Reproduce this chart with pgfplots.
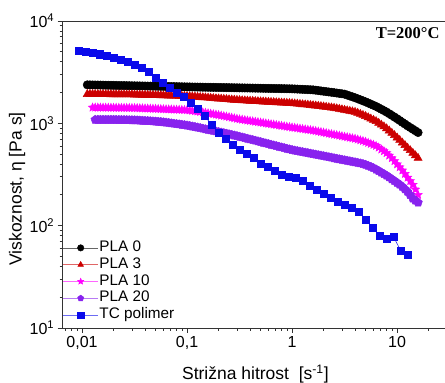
\documentclass[border=0pt]{standalone}
\usepackage{pgfplots}
\pgfplotsset{compat=1.18}
\usepackage{pgfplotstable}
\usepackage{fontspec}
\setmainfont{Liberation Sans}
\newfontfamily\titleserif{Liberation Serif}
\usetikzlibrary{plotmarks}

\definecolor{cred}{RGB}{204,0,0}
\definecolor{cmag}{RGB}{255,0,255}
\definecolor{cvio}{RGB}{136,34,238}
\definecolor{cblue}{RGB}{10,10,235}

% filled five-pointed star
\pgfdeclareplotmark{fstar}{%
  \pgfpathmoveto{\pgfpointpolar{90}{\pgfplotmarksize}}%
  \pgfpathlineto{\pgfpointpolar{126}{0.45\pgfplotmarksize}}%
  \pgfpathlineto{\pgfpointpolar{162}{\pgfplotmarksize}}%
  \pgfpathlineto{\pgfpointpolar{198}{0.45\pgfplotmarksize}}%
  \pgfpathlineto{\pgfpointpolar{234}{\pgfplotmarksize}}%
  \pgfpathlineto{\pgfpointpolar{270}{0.45\pgfplotmarksize}}%
  \pgfpathlineto{\pgfpointpolar{306}{\pgfplotmarksize}}%
  \pgfpathlineto{\pgfpointpolar{342}{0.45\pgfplotmarksize}}%
  \pgfpathlineto{\pgfpointpolar{18}{\pgfplotmarksize}}%
  \pgfpathlineto{\pgfpointpolar{54}{0.45\pgfplotmarksize}}%
  \pgfpathclose
  \pgfusepathqfillstroke
}

% shear rate [1/s] and viscosity [Pa s] of the PLA blends
\pgfplotstableread{
x pla0 pla3 pla10 pla20
0.01122 2377 1928 nan nan
0.01189 2374 1927 nan nan
0.01259 2371 1925 1429 nan
0.01334 2369 1924 1428 1084
0.01413 2366 1923 1427 1084
0.01496 2363 1922 1426 1084
0.01585 2360 1920 1425 1084
0.01679 2357 1919 1424 1084
0.01778 2354 1918 1423 1084
0.01884 2352 1917 1422 1084
0.01995 2349 1915 1421 1084
0.02113 2346 1914 1420 1083
0.02239 2343 1913 1419 1081
0.02371 2340 1912 1418 1080
0.02512 2337 1910 1417 1079
0.02661 2335 1909 1416 1078
0.02818 2332 1908 1415 1076
0.02985 2329 1907 1414 1075
0.03162 2326 1905 1413 1074
0.03350 2323 1902 1410 1071
0.03548 2320 1899 1406 1067
0.03758 2318 1896 1403 1063
0.03981 2315 1892 1400 1059
0.04217 2312 1889 1397 1056
0.04467 2309 1886 1393 1052
0.04732 2307 1883 1390 1047
0.05012 2304 1879 1387 1042
0.05309 2301 1876 1384 1038
0.05623 2298 1873 1380 1033
0.05957 2296 1870 1377 1026
0.06310 2293 1866 1374 1019
0.06683 2290 1863 1371 1011
0.07079 2287 1860 1368 1002
0.07499 2285 1857 1365 994
0.07943 2282 1854 1361 986
0.08414 2279 1851 1358 979
0.08913 2276 1847 1355 971
0.09441 2273 1844 1352 963
0.1 2270 1841 1349 955
0.1059 2268 1833 1338 944
0.1122 2265 1824 1327 933
0.1189 2263 1816 1317 923
0.1259 2260 1807 1306 912
0.1334 2258 1799 1294 901
0.1413 2255 1791 1282 889
0.1496 2253 1783 1269 878
0.1585 2250 1774 1256 867
0.1679 2248 1766 1243 856
0.1778 2246 1758 1230 845
0.1884 2244 1750 1218 835
0.1995 2241 1742 1205 824
0.2113 2239 1734 1192 814
0.2239 2236 1726 1178 804
0.2371 2234 1718 1165 794
0.2512 2231 1710 1151 783
0.2661 2229 1702 1137 773
0.2818 2226 1694 1122 762
0.2985 2224 1687 1109 752
0.3162 2221 1679 1096 741
0.3350 2219 1673 1086 730
0.3548 2217 1667 1076 719
0.3758 2215 1662 1067 709
0.3981 2212 1656 1057 698
0.4217 2210 1650 1048 688
0.4467 2207 1644 1038 678
0.4732 2205 1639 1029 668
0.5012 2202 1633 1019 658
0.5309 2200 1628 1010 648
0.5623 2197 1622 1000 638
0.5957 2195 1617 991 629
0.6310 2193 1611 982 619
0.6683 2191 1606 973 610
0.7079 2188 1600 964 601
0.7499 2186 1595 955 592
0.7943 2183 1589 946 583
0.8414 2181 1584 938 575
0.8913 2178 1578 929 566
0.9441 2176 1573 921 558
1 2173 1567 912 550
1.059 2167 1558 905 543
1.122 2160 1549 897 537
1.189 2154 1540 889 531
1.259 2148 1531 881 525
1.334 2142 1523 874 519
1.413 2136 1514 866 513
1.496 2130 1505 859 507
1.585 2123 1496 851 501
1.679 2107 1486 842 496
1.778 2090 1476 832 490
1.884 2074 1466 823 485
1.995 2058 1455 813 479
2.113 2042 1444 804 474
2.239 2026 1432 794 468
2.371 2011 1423 785 463
2.512 1995 1413 776 457
2.661 1978 1397 768 452
2.818 1961 1380 759 447
2.985 1945 1365 750 442
3.162 1928 1349 741 437
3.350 1890 1334 733 432
3.548 1851 1318 724 427
3.758 1815 1303 716 422
3.981 1778 1288 708 417
4.217 1738 1259 696 412
4.467 1698 1230 684 407
4.732 1660 1203 673 401
5.012 1622 1175 661 394
5.309 1581 1142 646 385
5.623 1540 1109 631 376
5.957 1501 1078 617 366
6.310 1462 1047 603 355
6.683 1418 1007 580 343
7.079 1373 966 556 331
7.499 1331 929 535 320
7.943 1288 891 513 309
8.414 1242 848 485 297
8.913 1196 804 457 285
9.441 1153 764 428 274
10 1109 724 398 263
10.59 1066 685 373 252
11.22 1023 646 347 240
11.89 984 611 321 227
12.59 944 575 295 214
13.34 910 544 273 199
14.13 876 513 251 184
14.96 845 485 226 176
15.85 813 457 200 168
}\plablends

% TC polymer
\pgfplotstableread{
x eta
0.009261 5129
0.010798 5012
0.012589 4898
0.014678 4732
0.017113 4571
0.019953 4416
0.023263 4217
0.027123 4027
0.031623 3758
0.036869 3467
0.042987 3162
0.050119 2818
0.058434 2512
0.068129 2239
0.079433 1995
0.092611 1820
0.10798 1585
0.12589 1380
0.14678 1175
0.17113 977
0.19953 813
0.23263 708
0.27123 617
0.31623 550
0.36869 501
0.42987 457
0.50119 407
0.58434 376
0.68129 347
0.79433 316
0.92611 302
1.0798 292
1.2589 275
1.4678 245
1.7113 224
1.9953 207
2.3263 188
2.7123 172
3.1623 160
3.6869 150
4.2987 138
5.0119 115
5.8434 95.5
6.8129 79.4
7.9433 74.1
9.2611 77.6
10.798 57.5
12.589 52.5
}\tcpoly

\begin{document}
\begin{tikzpicture}
\path[use as bounding box] (-62.7pt,-55pt) rectangle (382.3pt,328pt);
\begin{axis}[
  scale only axis,
  width=382.3pt, height=307pt,
  xmode=log, ymode=log,
  xmin=0.00654, xmax=28.6,
  ymin=10, ymax=10000,
  axis y line*=left,
  xtick pos=bottom, ytick pos=left,
  axis line style={black!80, line width=0.9pt},
  tick align=outside,
  major tick length=5pt, minor tick length=3pt,
  every tick/.style={black!80, line width=0.8pt},
  xtick={0.01,0.1,1,10},
  xticklabels={{0,01},{0,1},1,10},
  minor xtick={0.007,0.008,0.009,0.02,0.03,0.04,0.05,0.06,0.07,0.08,0.09,0.2,0.3,0.4,0.5,0.6,0.7,0.8,0.9,2,3,4,5,6,7,8,9,20},
  ytick={10,100,1000,10000},
  yticklabels={10\textsuperscript{1},10\textsuperscript{2},10\textsuperscript{3},10\textsuperscript{4}},
  minor ytick={20,30,40,50,60,70,80,90,200,300,400,500,600,700,800,900,2000,3000,4000,5000,6000,7000,8000,9000},
  tick label style={font=\fontsize{16}{19}\selectfont},
  xlabel={Strižna hitrost\ \ [s\textsuperscript{-1}]},
  ylabel={Viskoznost, η [Pa s]},
  label style={font=\fontsize{17.5}{21}\selectfont},
  xlabel style={at={(axis description cs:0.504,-0.15)}, anchor=center},
  ylabel style={at={(axis description cs:-0.1195,0.4528)}, anchor=center},
  legend style={
    at={(rel axis cs:0,0.289)}, anchor=north west,
    draw=none, fill=none, inner sep=0pt,
    font=\fontsize{15.3}{18}\selectfont,
    nodes={inner sep=1pt, text height=11pt, text depth=3.8pt},
    row sep=0pt,
  },
  legend cell align=left,
  legend image code/.code={%
    \draw[#1, mark=none, line width=0.6pt, opacity=0.6] (0pt,0pt) -- (35pt,0pt);
    \draw[#1, only marks, mark size=3.2pt] plot coordinates {(17.5pt,0pt)};},
]
\addplot[black, line width=0.5pt, mark=*, mark size=4.2pt,
  mark options={solid, fill=black}] table[x=x, y=pla0]{\plablends};
\addlegendentry{PLA 0}
\addplot[cred, line width=0.5pt, mark=triangle*, mark size=4.7pt,
  mark options={solid, fill=cred}] table[x=x, y=pla3]{\plablends};
\addlegendentry{PLA 3}
\addplot[cmag, line width=0.5pt, mark=fstar, mark size=4.4pt,
  mark options={solid, fill=cmag}] table[x=x, y=pla10]{\plablends};
\addlegendentry{PLA 10}
\addplot[cvio, line width=0.5pt, mark=pentagon*, mark size=4.5pt,
  mark options={solid, fill=cvio}] table[x=x, y=pla20]{\plablends};
\addlegendentry{PLA 20}
\addplot[cblue, line width=0.5pt, mark=square*, mark size=3.5pt,
  mark options={solid, fill=cblue}] table[x=x, y=eta]{\tcpoly};
\addlegendentry{TC polimer}
\node[anchor=base east, font=\titleserif\bfseries\fontsize{16.5}{20}\selectfont]
  at (rel axis cs:0.9948,0.9414) {T=200°C};
\end{axis}
\end{tikzpicture}
\end{document}
